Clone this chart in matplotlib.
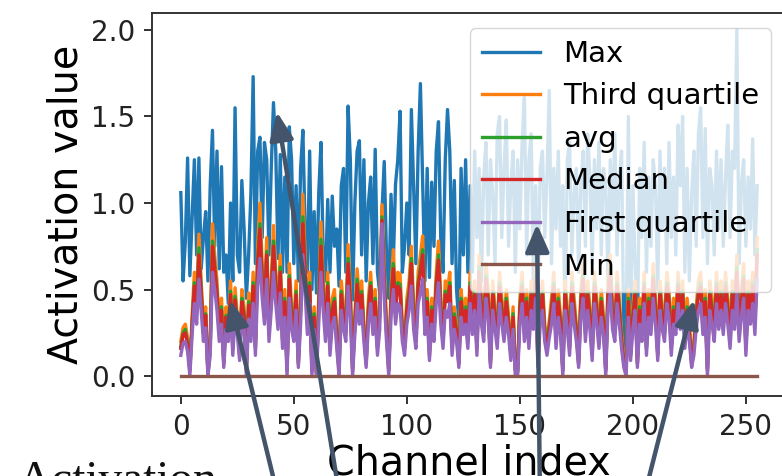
import matplotlib
matplotlib.use("Agg")
import matplotlib.pyplot as plt
from matplotlib.patches import FancyArrowPatch

channels = list(range(256))

max_vals = [
    1.06, 0.55, 0.78, 1.26, 0.58, 0.92, 1.25, 0.70, 1.26, 0.62, 0.80, 0.95, 0.55, 1.10, 1.42, 0.75,
    1.30, 0.62, 1.21, 0.60, 0.70, 0.42, 1.00, 0.55, 1.55, 0.70, 0.60, 1.13, 0.85, 0.45, 0.70, 1.05,
    1.73, 0.65, 1.30, 1.38, 0.80, 1.35, 1.25, 0.70, 1.20, 1.58, 1.30, 0.68, 1.28, 0.60, 1.15, 0.60,
    1.44, 1.25, 0.65, 1.10, 0.55, 1.20, 1.42, 0.85, 0.60, 1.30, 0.50, 0.95, 0.48, 1.05, 1.35, 0.70,
    0.55, 1.02, 0.60, 1.04, 0.75, 0.85, 0.52, 1.10, 1.20, 0.60, 1.56, 1.25, 0.44, 1.00, 1.30, 1.36,
    0.70, 1.25, 0.55, 1.00, 1.15, 0.65, 1.31, 0.60, 0.48, 0.95, 1.24, 0.70, 0.45, 1.05, 0.65, 1.11,
    1.25, 1.53, 0.60, 0.75, 1.00, 0.70, 1.54, 1.10, 0.65, 1.30, 1.69, 1.13, 0.55, 1.20, 0.57, 1.12,
    0.75, 1.30, 1.47, 0.80, 0.60, 1.25, 1.54, 1.30, 0.65, 1.13, 0.50, 0.30, 1.20, 0.70, 1.25, 0.60,
    1.10, 0.60, 1.30, 0.80, 1.20, 0.55, 1.15, 1.35, 0.70, 1.25, 1.05, 0.65, 1.40, 1.50, 0.80, 1.20,
    1.48, 0.75, 1.10, 1.30, 0.60, 1.25, 0.85, 1.35, 1.61, 0.70, 1.25, 1.40, 0.55, 1.10, 0.40, 1.20,
    1.30, 0.80, 1.15, 1.65, 0.65, 1.20, 0.85, 1.30, 0.75, 1.10, 0.35, 1.25, 1.35, 0.70, 1.05, 1.20,
    0.60, 1.10, 1.30, 0.75, 1.40, 1.15, 0.65, 1.25, 0.85, 1.35, 0.70, 1.20, 1.10, 0.55, 1.25, 0.85,
    1.40, 0.70, 1.15, 1.30, 0.20, 0.15, 1.50, 0.30, 1.10, 0.65, 0.25, 1.20, 0.80, 1.35, 0.60, 1.15,
    0.75, 1.25, 1.10, 0.50, 1.30, 0.85, 1.20, 0.65, 1.35, 0.80, 1.15, 0.70, 1.45, 1.10, 1.50, 0.60,
    1.20, 0.55, 1.05, 1.30, 0.75, 1.40, 1.55, 0.80, 1.43, 0.65, 1.20, 1.10, 0.70, 1.30, 0.85, 1.25,
    0.75, 1.15, 1.45, 0.80, 1.30, 1.20, 2.00, 0.65, 1.10, 1.25, 0.75, 1.15, 0.85, 1.37, 0.70, 1.10,
]

third_quartile = [
    0.20, 0.28, 0.30, 0.22, 0.05, 0.35, 0.60, 0.45, 0.82, 0.55, 0.30, 0.40, 0.02, 0.20, 0.88, 0.70,
    0.55, 0.30, 0.45, 0.10, 0.40, 0.30, 0.55, 0.20, 0.51, 0.35, 0.15, 0.50, 0.40, 0.05, 0.48, 0.30,
    0.60, 0.20, 0.75, 1.00, 0.65, 0.45, 0.80, 0.30, 0.55, 0.87, 0.60, 0.40, 0.70, 0.25, 0.50, 0.05,
    0.65, 0.40, 0.30, 0.55, 0.10, 0.45, 1.05, 0.70, 0.35, 0.60, 0.05, 0.40, 0.02, 0.45, 0.89, 0.55,
    0.30, 0.60, 0.20, 0.45, 0.50, 0.25, 0.05, 0.55, 0.40, 0.30, 0.76, 0.50, 0.05, 0.35, 0.62, 0.45,
    0.55, 0.30, 0.10, 0.45, 0.60, 0.35, 0.50, 0.20, 0.40, 0.99, 0.65, 0.30, 0.05, 0.50, 0.73, 0.45,
    0.60, 0.59, 0.30, 0.20, 0.45, 0.55, 0.75, 0.40, 0.25, 0.60, 0.70, 0.81, 0.35, 0.50, 0.21, 0.45,
    0.30, 0.60, 0.78, 0.45, 0.25, 0.55, 0.50, 0.60, 0.20, 0.40, 0.30, 0.10, 0.50, 0.35, 0.45, 0.25,
    0.60, 0.35, 0.55, 0.20, 0.70, 0.45, 0.30, 0.65, 0.50, 0.10, 0.55, 0.40, 0.25, 0.60, 0.45, 0.30,
    0.50, 0.35, 0.15, 0.40, 0.05, 0.03, 0.45, 0.60, 0.30, 0.50, 0.25, 0.55, 0.40, 0.65, 0.10, 0.45,
    0.55, 0.30, 0.20, 0.32, 0.45, 0.60, 0.25, 0.50, 0.35, 0.05, 0.55, 0.40, 0.20, 0.60, 0.45, 0.30,
    0.10, 0.50, 0.65, 0.30, 0.55, 0.40, 0.15, 0.60, 0.45, 0.25, 0.50, 0.35, 0.05, 0.55, 0.70, 0.40,
    0.30, 0.60, 0.45, 0.25, 0.10, 0.05, 0.50, 0.15, 0.40, 0.55, 0.10, 0.45, 0.30, 0.60, 0.20, 0.50,
    0.35, 0.65, 0.45, 0.15, 0.55, 0.40, 0.30, 0.60, 0.50, 0.20, 0.45, 0.35, 0.60, 0.40, 0.55, 0.25,
    0.45, 0.30, 0.10, 0.20, 0.40, 0.55, 0.60, 0.35, 0.50, 0.05, 0.55, 0.45, 0.30, 0.60, 0.40, 0.55,
    0.35, 0.60, 0.45, 0.25, 0.55, 0.40, 0.70, 0.30, 0.50, 0.65, 0.20, 0.55, 0.45, 0.60, 0.35, 0.80,
]

avg_vals = [
    0.17, 0.25, 0.27, 0.19, 0.04, 0.31, 0.54, 0.40, 0.74, 0.50, 0.27, 0.36, 0.02, 0.17, 0.78, 0.64,
    0.49, 0.26, 0.40, 0.08, 0.35, 0.27, 0.49, 0.17, 0.46, 0.31, 0.13, 0.45, 0.36, 0.04, 0.43, 0.27,
    0.54, 0.17, 0.68, 0.88, 0.58, 0.40, 0.72, 0.27, 0.49, 0.78, 0.54, 0.36, 0.63, 0.22, 0.45, 0.04,
    0.58, 0.36, 0.27, 0.49, 0.08, 0.40, 0.92, 0.63, 0.31, 0.54, 0.04, 0.36, 0.02, 0.40, 0.79, 0.49,
    0.27, 0.54, 0.17, 0.40, 0.45, 0.22, 0.04, 0.49, 0.36, 0.27, 0.68, 0.45, 0.04, 0.31, 0.56, 0.40,
    0.49, 0.27, 0.08, 0.40, 0.54, 0.31, 0.45, 0.17, 0.36, 0.92, 0.58, 0.27, 0.04, 0.45, 0.65, 0.40,
    0.54, 0.53, 0.27, 0.17, 0.40, 0.49, 0.68, 0.36, 0.22, 0.54, 0.63, 0.73, 0.31, 0.45, 0.15, 0.40,
    0.27, 0.54, 0.70, 0.40, 0.22, 0.49, 0.45, 0.54, 0.17, 0.36, 0.27, 0.08, 0.45, 0.31, 0.40, 0.22,
    0.54, 0.31, 0.49, 0.17, 0.63, 0.40, 0.27, 0.58, 0.45, 0.08, 0.49, 0.36, 0.22, 0.54, 0.40, 0.27,
    0.45, 0.31, 0.13, 0.36, 0.04, 0.03, 0.40, 0.54, 0.27, 0.45, 0.22, 0.49, 0.36, 0.58, 0.08, 0.40,
    0.49, 0.27, 0.17, 0.29, 0.40, 0.54, 0.22, 0.45, 0.31, 0.04, 0.49, 0.36, 0.17, 0.54, 0.40, 0.27,
    0.08, 0.45, 0.58, 0.27, 0.49, 0.36, 0.13, 0.54, 0.40, 0.22, 0.45, 0.31, 0.04, 0.49, 0.63, 0.36,
    0.27, 0.54, 0.40, 0.22, 0.08, 0.04, 0.45, 0.13, 0.36, 0.49, 0.08, 0.40, 0.27, 0.54, 0.17, 0.45,
    0.31, 0.58, 0.40, 0.13, 0.49, 0.36, 0.27, 0.54, 0.45, 0.17, 0.40, 0.31, 0.54, 0.36, 0.49, 0.22,
    0.40, 0.27, 0.08, 0.17, 0.36, 0.49, 0.54, 0.31, 0.45, 0.04, 0.49, 0.40, 0.27, 0.54, 0.36, 0.49,
    0.31, 0.54, 0.40, 0.22, 0.49, 0.36, 0.63, 0.27, 0.45, 0.58, 0.17, 0.49, 0.40, 0.54, 0.31, 0.73,
]

median_vals = [
    0.16, 0.24, 0.25, 0.18, 0.03, 0.30, 0.52, 0.38, 0.70, 0.48, 0.25, 0.35, 0.01, 0.16, 0.75, 0.62,
    0.47, 0.25, 0.38, 0.07, 0.34, 0.25, 0.47, 0.16, 0.44, 0.30, 0.12, 0.43, 0.34, 0.03, 0.41, 0.25,
    0.52, 0.16, 0.65, 0.85, 0.56, 0.38, 0.70, 0.25, 0.47, 0.75, 0.52, 0.34, 0.60, 0.20, 0.43, 0.03,
    0.56, 0.34, 0.25, 0.47, 0.07, 0.38, 0.88, 0.60, 0.30, 0.52, 0.03, 0.34, 0.01, 0.38, 0.75, 0.47,
    0.25, 0.52, 0.16, 0.38, 0.43, 0.20, 0.03, 0.47, 0.34, 0.25, 0.65, 0.43, 0.03, 0.30, 0.53, 0.38,
    0.47, 0.25, 0.07, 0.38, 0.52, 0.30, 0.43, 0.16, 0.34, 0.90, 0.56, 0.25, 0.03, 0.43, 0.62, 0.38,
    0.52, 0.50, 0.25, 0.16, 0.38, 0.47, 0.65, 0.34, 0.20, 0.52, 0.60, 0.70, 0.30, 0.43, 0.12, 0.38,
    0.25, 0.52, 0.67, 0.38, 0.20, 0.47, 0.43, 0.52, 0.16, 0.34, 0.25, 0.07, 0.43, 0.30, 0.38, 0.20,
    0.52, 0.30, 0.47, 0.16, 0.60, 0.38, 0.25, 0.56, 0.43, 0.07, 0.47, 0.34, 0.20, 0.52, 0.38, 0.25,
    0.43, 0.30, 0.12, 0.34, 0.03, 0.02, 0.38, 0.52, 0.25, 0.43, 0.20, 0.47, 0.34, 0.56, 0.07, 0.38,
    0.47, 0.25, 0.16, 0.27, 0.38, 0.52, 0.20, 0.43, 0.30, 0.03, 0.47, 0.34, 0.16, 0.52, 0.38, 0.25,
    0.07, 0.43, 0.56, 0.25, 0.47, 0.34, 0.12, 0.52, 0.38, 0.20, 0.43, 0.30, 0.03, 0.47, 0.60, 0.34,
    0.25, 0.52, 0.38, 0.20, 0.07, 0.03, 0.43, 0.12, 0.34, 0.47, 0.07, 0.38, 0.25, 0.52, 0.16, 0.43,
    0.30, 0.56, 0.38, 0.12, 0.47, 0.34, 0.25, 0.52, 0.43, 0.16, 0.38, 0.30, 0.52, 0.34, 0.47, 0.20,
    0.38, 0.25, 0.07, 0.16, 0.34, 0.47, 0.52, 0.30, 0.43, 0.03, 0.47, 0.38, 0.25, 0.52, 0.34, 0.47,
    0.30, 0.52, 0.38, 0.20, 0.47, 0.34, 0.60, 0.25, 0.43, 0.56, 0.16, 0.47, 0.38, 0.52, 0.30, 0.70,
]

first_quartile = [
    0.12, 0.19, 0.20, 0.14, 0.00, 0.24, 0.42, 0.30, 0.56, 0.38, 0.20, 0.28, 0.00, 0.12, 0.60, 0.50,
    0.38, 0.20, 0.30, 0.05, 0.27, 0.20, 0.38, 0.12, 0.35, 0.24, 0.09, 0.34, 0.27, 0.00, 0.33, 0.20,
    0.42, 0.12, 0.52, 0.68, 0.45, 0.30, 0.56, 0.20, 0.38, 0.60, 0.42, 0.27, 0.48, 0.16, 0.34, 0.00,
    0.45, 0.27, 0.20, 0.38, 0.05, 0.30, 0.70, 0.48, 0.24, 0.42, 0.00, 0.27, 0.00, 0.30, 0.60, 0.38,
    0.20, 0.42, 0.12, 0.30, 0.34, 0.16, 0.00, 0.38, 0.27, 0.20, 0.52, 0.34, 0.00, 0.24, 0.42, 0.30,
    0.38, 0.20, 0.05, 0.30, 0.42, 0.24, 0.34, 0.12, 0.27, 0.88, 0.45, 0.20, 0.00, 0.34, 0.50, 0.30,
    0.42, 0.40, 0.20, 0.12, 0.30, 0.38, 0.52, 0.27, 0.16, 0.42, 0.48, 0.56, 0.24, 0.34, 0.09, 0.30,
    0.20, 0.42, 0.54, 0.30, 0.16, 0.38, 0.34, 0.42, 0.12, 0.27, 0.20, 0.05, 0.34, 0.24, 0.30, 0.16,
    0.42, 0.24, 0.38, 0.12, 0.48, 0.30, 0.20, 0.45, 0.34, 0.05, 0.38, 0.27, 0.16, 0.42, 0.30, 0.20,
    0.34, 0.24, 0.09, 0.27, 0.00, 0.00, 0.30, 0.42, 0.20, 0.34, 0.16, 0.38, 0.27, 0.45, 0.05, 0.30,
    0.38, 0.20, 0.12, 0.22, 0.30, 0.42, 0.16, 0.34, 0.24, 0.00, 0.38, 0.27, 0.12, 0.42, 0.30, 0.20,
    0.05, 0.34, 0.45, 0.20, 0.38, 0.27, 0.09, 0.42, 0.30, 0.16, 0.34, 0.24, 0.00, 0.38, 0.48, 0.27,
    0.20, 0.42, 0.30, 0.16, 0.05, 0.00, 0.34, 0.09, 0.27, 0.38, 0.05, 0.30, 0.20, 0.42, 0.12, 0.34,
    0.24, 0.45, 0.30, 0.09, 0.38, 0.27, 0.20, 0.42, 0.34, 0.12, 0.30, 0.24, 0.42, 0.27, 0.38, 0.16,
    0.30, 0.20, 0.05, 0.12, 0.27, 0.38, 0.42, 0.24, 0.34, 0.00, 0.38, 0.30, 0.20, 0.42, 0.27, 0.38,
    0.24, 0.42, 0.30, 0.16, 0.38, 0.27, 0.48, 0.20, 0.34, 0.45, 0.12, 0.38, 0.30, 0.42, 0.24, 0.56,
]

min_vals = [0.0] * 256

series = [
    ("Max", max_vals),
    ("Third quartile", third_quartile),
    ("avg", avg_vals),
    ("Median", median_vals),
    ("First quartile", first_quartile),
    ("Min", min_vals),
]

W, H = 782, 476
fig = plt.figure(figsize=(W / 100, H / 100), dpi=100)
ax = fig.add_axes([152 / W, (H - 396) / H, (786 - 152) / W, (396 - 13.5) / H])

for label, vals in series:
    ax.plot(channels, vals, lw=2.4, label=label)

ax.set_xlim(-12.75, 267.75)
ax.set_ylim(-0.115, 2.095)
ax.set_xticks([0, 50, 100, 150, 200, 250])
ax.set_yticks([0.0, 0.5, 1.0, 1.5, 2.0])
ax.set_yticklabels(["0.0", "0.5", "1.0", "1.5", "2.0"])
ax.tick_params(labelsize=20, length=6, width=1.3, pad=6, colors="#222222")
for sp in ax.spines.values():
    sp.set_linewidth(1.4)
    sp.set_color("#333333")
ax.set_xlabel("Channel index", fontsize=28.5, labelpad=2)
ax.set_ylabel("Activation value", fontsize=28.5, labelpad=3)

leg = ax.legend(loc="upper right", fontsize=21, labelspacing=0.5, handlelength=2.0,
                framealpha=0.8)
for ln in leg.get_lines():
    ln.set_linewidth(2.4)

# annotation arrows from the surrounding figure
arrow_color = "#44546A"
arrows = [((280, 505), (230, 300)), ((341, 505), (277, 112)),
          ((540, 505), (537, 224)), ((642, 505), (694, 300))]
for (tx, ty), (hx, hy) in arrows:
    a = FancyArrowPatch((tx / W, (H - ty) / H), (hx / W, (H - hy) / H),
                        transform=fig.transFigure,
                        arrowstyle="-|>,head_length=1.4,head_width=0.6",
                        mutation_scale=12, lw=3.2, color=arrow_color,
                        shrinkA=0, shrinkB=0, zorder=20)
    fig.add_artist(a)

fig.text(18 / W, (H - 493) / H, "Activation", fontsize=34,
         family="Liberation Serif", va="baseline", ha="left", color="#111111")

fig.savefig("out.png", dpi=100)
